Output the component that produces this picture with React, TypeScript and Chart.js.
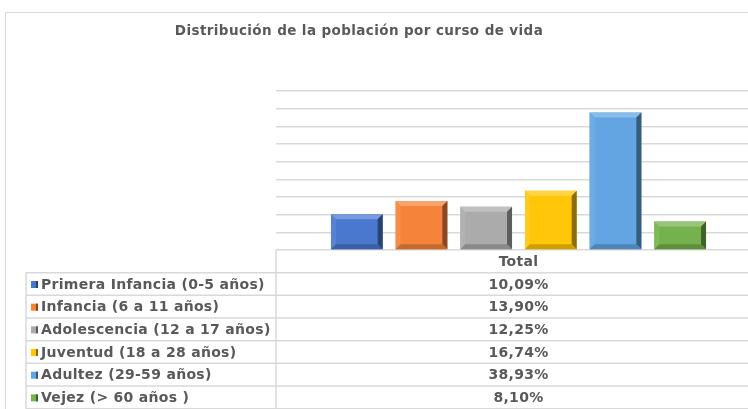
import React, { useEffect, useRef } from 'react';
import { Chart, registerables } from 'chart.js';

Chart.register(...registerables);

const chartTitle = 'Distribución de la población por curso de vida';
const categories = ['Total'];
const seriesLabels = [
  'Primera Infancia (0-5 años)',
  'Infancia (6 a 11 años)',
  'Adolescencia (12 a 17 años)',
  'Juventud (18 a 28 años)',
  'Adultez (29-59 años)',
  'Vejez (> 60 años )',
];
const seriesValues = [10.09, 13.9, 12.25, 16.74, 38.93, 8.1];
const seriesColors = ['#4A78CF', '#F5843A', '#ABABAB', '#FFC60A', '#63A5E2', '#75B24D'];
const yMax = 45;
const yStep = 5;

const TEXT = '#595959';
const LINE = '#d9d9d9';
const FONT = 'bold 14px "DejaVu Sans", Verdana, sans-serif';

function mix(hex: string, target: number, amt: number): string {
  const n = parseInt(hex.slice(1), 16);
  const r = (n >> 16) & 255, g = (n >> 8) & 255, b = n & 255;
  const f = (c: number) => Math.round(c + (target - c) * amt);
  return `rgb(${f(r)},${f(g)},${f(b)})`;
}

function fmt(v: number) {
  return v.toFixed(2).replace('.', ',') + '%';
}

const bevelPlugin = {
  id: 'bevel',
  afterDatasetsDraw(chart: any) {
    const ctx = chart.ctx;
    chart.data.datasets.forEach((ds: any, i: number) => {
      const meta = chart.getDatasetMeta(i);
      meta.data.forEach((bar: any) => {
        const { x, y, base, width } = bar.getProps(['x', 'y', 'base', 'width'], true);
        const l = x - width / 2, r = x + width / 2, t = y, b = base;
        const s = 5;
        const c = seriesColors[i];
        const poly = (pts: number[][], fill: string) => {
          ctx.beginPath();
          ctx.moveTo(pts[0][0], pts[0][1]);
          for (let k = 1; k < pts.length; k++) ctx.lineTo(pts[k][0], pts[k][1]);
          ctx.closePath();
          ctx.fillStyle = fill;
          ctx.fill();
        };
        ctx.save();
        poly([[l, t], [r, t], [r - s, t + s], [l + s, t + s]], mix(c, 255, 0.25));
        poly([[l, t], [l + s, t + s], [l + s, b - s], [l, b]], mix(c, 255, 0.08));
        poly([[r, t], [r - s, t + s], [r - s, b - s], [r, b]], mix(c, 0, 0.45));
        poly([[l, b], [l + s, b - s], [r - s, b - s], [r, b]], mix(c, 0, 0.2));
        ctx.restore();
      });
    });
  },
};

const tablePlugin = {
  id: 'table',
  afterDraw(chart: any) {
    const ctx = chart.ctx;
    const W = chart.width;
    const area = chart.chartArea;
    const base = area.bottom;
    const colX = 276;
    const leftX = 26;
    const rowH = 22.67;
    const headerTop = base;
    const firstRow = headerTop + rowH;
    ctx.save();
    // outer border
    ctx.strokeStyle = LINE;
    ctx.lineWidth = 1;
    ctx.beginPath();
    ctx.moveTo(5.5, chart.height + 5);
    ctx.lineTo(5.5, 12.5);
    ctx.lineTo(W + 5, 12.5);
    ctx.stroke();
    // title
    ctx.fillStyle = TEXT;
    ctx.font = 'bold 13.5px "DejaVu Sans", Verdana, sans-serif';
    (ctx as any).letterSpacing = '0.4px';
    ctx.textAlign = 'center';
    ctx.textBaseline = 'middle';
    ctx.fillText(chartTitle, 359, 31);
    // table lines
    ctx.strokeStyle = LINE;
    ctx.lineWidth = 1.5;
    ctx.beginPath();
    ctx.moveTo(colX, headerTop);
    ctx.lineTo(colX, chart.height + 5);
    ctx.moveTo(leftX, firstRow);
    ctx.lineTo(leftX, chart.height + 5);
    for (let k = 0; k <= seriesLabels.length; k++) {
      const yy = firstRow + k * rowH;
      ctx.moveTo(leftX, yy);
      ctx.lineTo(W + 5, yy);
    }
    ctx.stroke();
    // header
    const cx = chart.scales.x.getPixelForValue(0);
    ctx.font = FONT;
    (ctx as any).letterSpacing = '0.3px';
    ctx.fillStyle = TEXT;
    ctx.textAlign = 'center';
    ctx.fillText(categories[0], cx, headerTop + rowH / 2 + 1);
    seriesLabels.forEach((lab, k) => {
      const cy = firstRow + k * rowH + rowH / 2 + 1;
      // key
      ctx.fillStyle = seriesColors[k];
      ctx.fillRect(31, cy - 4, 7, 7);
      ctx.fillStyle = mix(seriesColors[k], 0, 0.45);
      ctx.fillRect(36, cy - 4, 2, 7);
      ctx.fillStyle = TEXT;
      ctx.textAlign = 'left';
      ctx.fillText(lab, 41, cy);
      ctx.textAlign = 'center';
      ctx.fillText(fmt(seriesValues[k]), cx, cy);
    });
    ctx.restore();
  },
};

export default function App() {
  const ref = useRef<HTMLCanvasElement | null>(null);
  useEffect(() => {
    if (!ref.current) return;
    const chart = new Chart(ref.current, {
      type: 'bar',
      data: {
        labels: categories,
        datasets: seriesLabels.map((label, i) => ({
          label,
          data: [seriesValues[i]],
          backgroundColor: seriesColors[i],
          borderWidth: 0,
          barPercentage: 0.8,
          categoryPercentage: 0.8,
        })),
      },
      options: {
        animation: false,
        responsive: false,
        devicePixelRatio: 1,
        layout: { padding: { left: 276, right: 29, top: 91, bottom: 159 } },
        plugins: {
          legend: { display: false },
          tooltip: { enabled: false },
          title: { display: false },
        },
        scales: {
          x: { display: false },
          y: {
            min: 0,
            max: yMax,
            ticks: { display: false, stepSize: yStep },
            grid: { color: LINE, lineWidth: 1.5, drawTicks: false },
            border: { display: false },
          },
        },
      },
      plugins: [bevelPlugin, tablePlugin],
    });
    return () => chart.destroy();
  }, []);
  return (
    <div style={{ position: 'absolute', left: 0, top: 0, width: 748, height: 409, overflow: 'hidden', background: '#fff' }}>
      <canvas ref={ref} width={790} height={409} style={{ display: 'block' }} />
    </div>
  );
}
